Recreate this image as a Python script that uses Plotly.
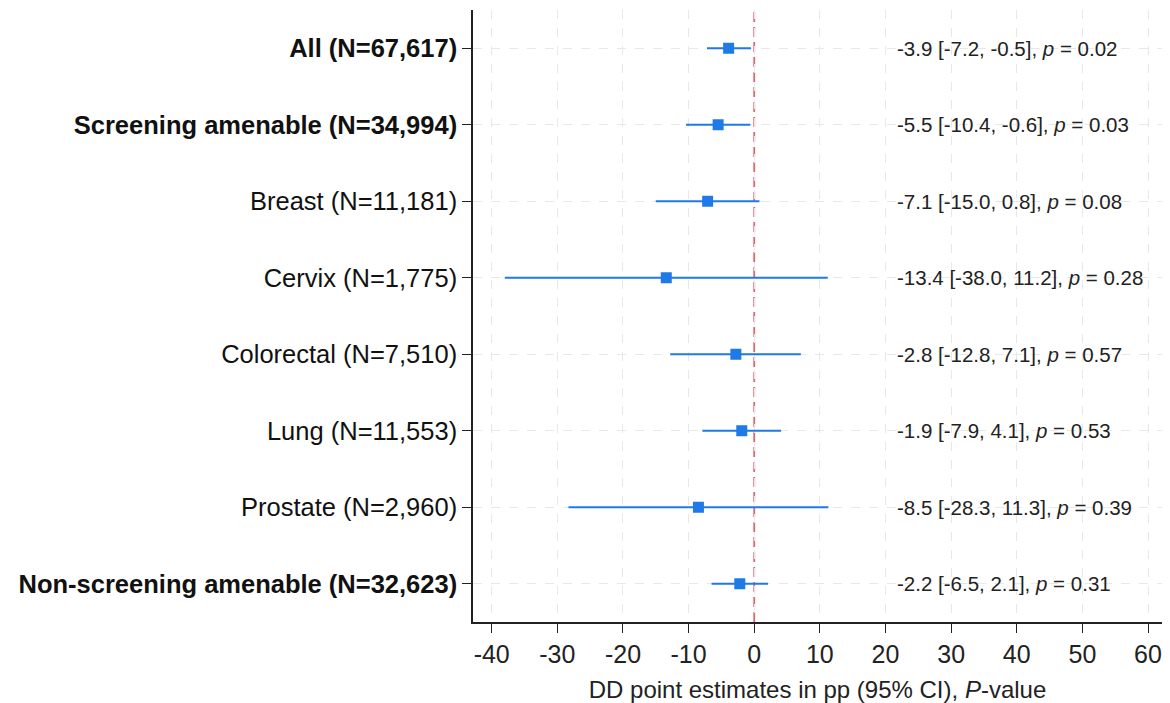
import plotly.graph_objects as go

labels = ["All (N=67,617)", "Screening amenable (N=34,994)", "Breast (N=11,181)",
          "Cervix (N=1,775)", "Colorectal (N=7,510)", "Lung (N=11,553)",
          "Prostate (N=2,960)", "Non-screening amenable (N=32,623)"]
bold = [True, True, False, False, False, False, False, True]
est = [-3.9, -5.5, -7.1, -13.4, -2.8, -1.9, -8.5, -2.2]
lo = [-7.2, -10.4, -15.0, -38.0, -12.8, -7.9, -28.3, -6.5]
hi = [-0.5, -0.6, 0.8, 11.2, 7.1, 4.1, 11.3, 2.1]
pvals = ["0.02", "0.03", "0.08", "0.28", "0.57", "0.53", "0.39", "0.31"]
xticks = [-40, -30, -20, -10, 0, 10, 20, 30, 40, 50, 60]

ypos = list(range(len(labels)))
ticktext = [f"<b>{l}</b>" if b else l for l, b in zip(labels, bold)]
blue = "#1f7ae8"

fig = go.Figure()
fig.add_trace(go.Scatter(
    x=est, y=ypos, mode="markers",
    marker=dict(symbol="square", size=11, color=blue),
    error_x=dict(type="data", symmetric=False,
                 array=[h - e for h, e in zip(hi, est)],
                 arrayminus=[e - l for e, l in zip(est, lo)],
                 width=0, thickness=2, color=blue),
    showlegend=False, hoverinfo="skip"))

fig.add_shape(type="line", x0=0, x1=0, y0=0, y1=1, yref="paper", xref="x",
              line=dict(color="#e4646c", width=1.8, dash="10px,5px"), layer="below")

for i, (e, l, h, p) in enumerate(zip(est, lo, hi, pvals)):
    fig.add_annotation(x=21.5, y=i, xanchor="left", yanchor="middle", showarrow=False,
                       text=f"{e} [{l}, {h}], <i>p</i> = {p}",
                       font=dict(size=20.5, color="#222"))

grid = dict(showgrid=True, gridcolor="#e8e8e8", griddash="dash", gridwidth=1)
fig.update_xaxes(range=[-42.85, 62.13], tickvals=xticks, ticktext=[str(t) for t in xticks],
                 ticks="outside", ticklen=9, automargin=False,
                 tickcolor="#222", showline=True, linecolor="#222", linewidth=1.5,
                 zeroline=False, tickfont=dict(size=25, color="#222"),
                 title=dict(text="DD point estimates in pp (95% CI), <i>P</i>-value",
                            font=dict(size=24, color="#222"), standoff=14), **grid)
fig.update_yaxes(range=[7.5, -0.5], tickvals=ypos, ticktext=ticktext, ticks="outside",
                 ticklen=9, tickcolor="#222", showline=True, linecolor="#222", linewidth=1.5,
                 zeroline=False, tickfont=dict(size=25.5, color="#111"), **grid)
fig.update_layout(width=1170, height=703, plot_bgcolor="white", paper_bgcolor="white",
                  margin=dict(l=473, r=8, t=10, b=81),
                  font=dict(family="Liberation Sans, Arial, sans-serif"))
fig.write_html("out.html")
